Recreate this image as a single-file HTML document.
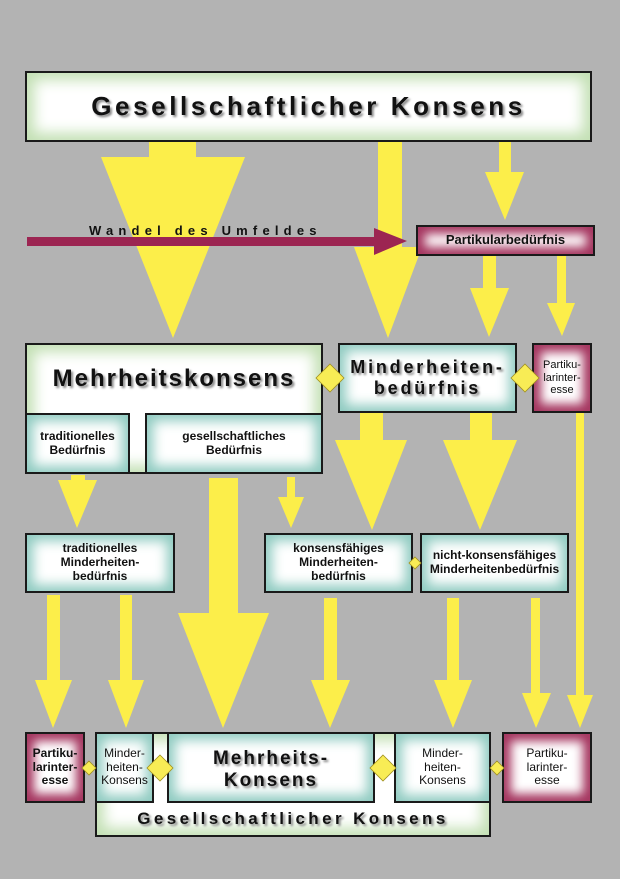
<!DOCTYPE html>
<html><head><meta charset="utf-8"><style>
body{margin:0;width:620px;height:879px;background:#b3b3b3;position:relative;overflow:hidden;font-family:"Liberation Sans",sans-serif;}
.b{position:absolute;box-sizing:border-box;border:2px solid #1a1a1a;display:flex;align-items:center;justify-content:center;text-align:center;font-weight:bold;color:#111;line-height:1.15;}
.g{background:#fff;box-shadow:inset 0 0 14px 7px #c3e0b4;}
.t{background:#fff;box-shadow:inset 0 0 12px 6px #8fcbc1;}
.m{background:#fff;box-shadow:inset 0 0 10px 7px #a5355f;}
.sh{text-shadow:2px 2px 2px #888;letter-spacing:2px;}
svg{position:absolute;left:0;top:0;}
</style></head><body>
<svg width="620" height="879" fill="#fcee4a">
<polygon points="149,141 196,141 196,157 245,157 173,338 101,157 149,157"/>
<polygon points="378,141 402,141 402,247 422,247 388,338 354,247 378,247"/>
<polygon points="499,141 511,141 511,172 524,172 505,220 485,172 499,172"/>
<polygon points="483,256 496,256 496,288 509,288 489,337 470,288 483,288"/>
<polygon points="557,256 566,256 566,303 575,303 562,336 547,303 557,303"/>
<polygon points="360,413 383,413 383,440 407,440 372,530 335,440 360,440"/>
<polygon points="470,413 492,413 492,440 517,440 480,530 443,440 470,440"/>
<polygon points="576,413 584,413 584,695 593,695 580,728 567,695 576,695"/>
<polygon points="71,475 85,475 85,480 97,480 77,528 58,480 71,480"/>
<polygon points="209,478 238,478 238,613 269,613 223,728 178,613 209,613"/>
<polygon points="287,477 295,477 295,497 304,497 291,528 278,497 287,497"/>
<polygon points="47,595 60,595 60,680 72,680 53,728 35,680 47,680"/>
<polygon points="120,595 132,595 132,680 144,680 126,728 108,680 120,680"/>
<polygon points="324,598 337,598 337,680 350,680 330,728 311,680 324,680"/>
<polygon points="447,598 459,598 459,680 472,680 453,728 434,680 447,680"/>
<polygon points="531,598 540,598 540,693 551,693 536,728 522,693 531,693"/>
<polygon fill="#9c2552" points="27,237 374,237 374,228 407,241 374,255 374,246 27,246"/>
<text x="89" y="235" font-family="Liberation Sans" font-weight="bold" font-size="13" letter-spacing="5.2" fill="#111">Wandel des Umfeldes</text>
</svg>
<div class="b g sh" style="left:25px;top:71px;width:567px;height:71px;font-size:26px;letter-spacing:3.6px;">Gesellschaftlicher Konsens</div>
<div class="b m" style="left:416px;top:225px;width:179px;height:31px;font-size:13px;">Partikularbedürfnis</div>
<div class="b g sh" style="left:25px;top:343px;width:298px;height:131px;font-size:24px;align-items:flex-start;padding-top:20px;">Mehrheitskonsens</div>
<div class="b t" style="left:25px;top:413px;width:105px;height:61px;font-size:12px;">traditionelles<br>Bedürfnis</div>
<div class="b t" style="left:145px;top:413px;width:178px;height:61px;font-size:12px;">gesellschaftliches<br>Bedürfnis</div>
<div class="b t sh" style="left:338px;top:343px;width:179px;height:70px;font-size:18px;letter-spacing:2.8px;">Minderheiten-<br>bedürfnis</div>
<div class="b m" style="left:532px;top:343px;width:60px;height:70px;font-size:11px;font-weight:normal;">Partiku-<br>larinter-<br>esse</div>
<div class="b t" style="left:25px;top:533px;width:150px;height:60px;font-size:12px;">traditionelles<br>Minderheiten-<br>bedürfnis</div>
<div class="b t" style="left:264px;top:533px;width:149px;height:60px;font-size:12px;">konsensfähiges<br>Minderheiten-<br>bedürfnis</div>
<div class="b t" style="left:420px;top:533px;width:149px;height:60px;font-size:12px;">nicht-konsensfähiges<br>Minderheitenbedürfnis</div>
<div class="b g sh" style="left:95px;top:732px;width:396px;height:105px;font-size:17px;align-items:flex-end;padding-bottom:6px;letter-spacing:3.4px;">Gesellschaftlicher Konsens</div>
<div class="b m" style="left:25px;top:732px;width:60px;height:71px;font-size:12px;">Partiku-<br>larinter-<br>esse</div>
<div class="b t" style="left:95px;top:732px;width:59px;height:71px;font-size:12px;font-weight:normal;">Minder-<br>heiten-<br>Konsens</div>
<div class="b t sh" style="left:167px;top:732px;width:208px;height:71px;font-size:19px;align-items:flex-start;padding-top:14px;">Mehrheits-<br>Konsens</div>
<div class="b t" style="left:394px;top:732px;width:97px;height:71px;font-size:12px;font-weight:normal;">Minder-<br>heiten-<br>Konsens</div>
<div class="b m" style="left:502px;top:732px;width:90px;height:71px;font-size:12px;font-weight:normal;">Partiku-<br>larinter-<br>esse</div>
<svg width="620" height="879" fill="#f8ec55" stroke="#a09020" stroke-width="0.8">
<polygon points="330,364 344,378 330,392 316,378"/>
<polygon points="525,364 539,378 525,392 511,378"/>
<polygon points="415,557 421,563 415,569 409,563"/>
<polygon points="89,761 96,768 89,775 82,768"/>
<polygon points="160,755 173,768 160,781 147,768"/>
<polygon points="383,755 396,768 383,781 370,768"/>
<polygon points="497,761 504,768 497,775 490,768"/>
</svg>
</body></html>
